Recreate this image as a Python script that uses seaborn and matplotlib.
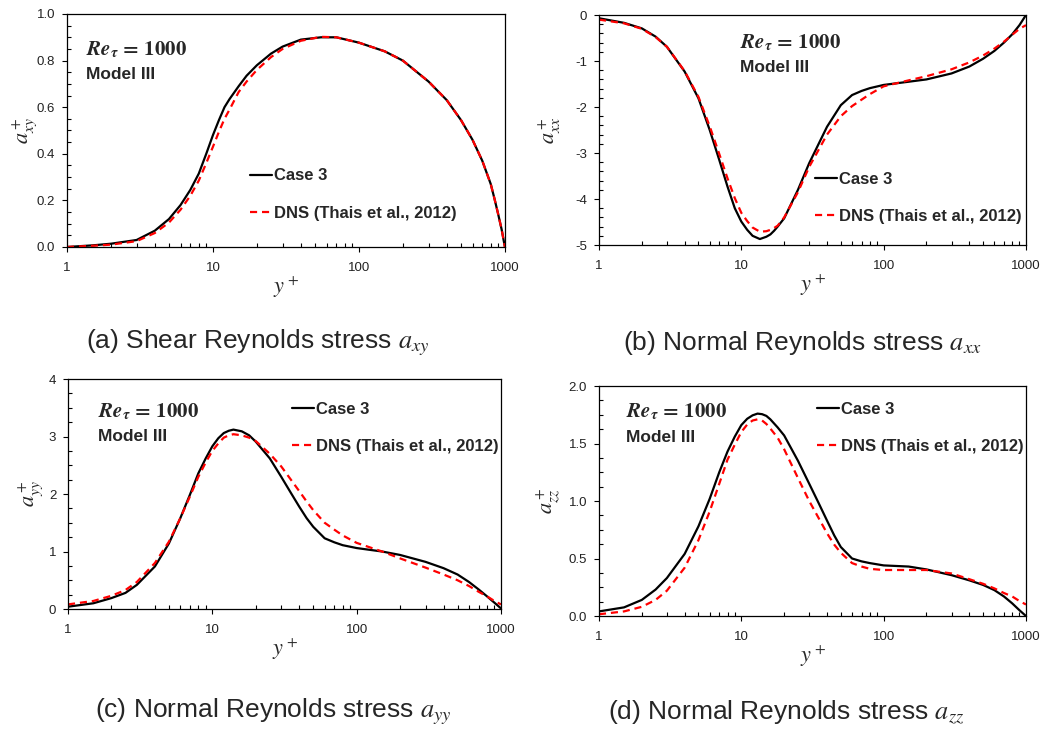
import numpy as np
import pandas as pd
import seaborn as sns
import matplotlib.pyplot as plt
from matplotlib.ticker import LogLocator, MultipleLocator, FormatStrFormatter, FuncFormatter, NullFormatter

# y+ positions and values (log axis 1..1000)
yp_a = [1, 1.5, 2, 3, 4, 5, 6, 7, 8, 9, 10, 11, 12, 13, 15, 17, 20, 25, 30, 40, 55, 70,
        100, 150, 200, 300, 400, 500, 600, 700, 800, 850, 900, 950, 1000]
axy_case = [0.0, 0.007, 0.014, 0.03, 0.07, 0.12, 0.18, 0.245, 0.315, 0.40, 0.48, 0.545, 0.60, 0.635,
            0.69, 0.735, 0.78, 0.83, 0.86, 0.89, 0.90, 0.90, 0.877, 0.84, 0.80, 0.71, 0.63, 0.545,
            0.46, 0.37, 0.27, 0.205, 0.14, 0.075, 0.0]
axy_dns = [0.0, 0.005, 0.01, 0.025, 0.06, 0.105, 0.16, 0.22, 0.285, 0.36, 0.43, 0.495, 0.55, 0.59,
           0.665, 0.71, 0.76, 0.815, 0.85, 0.885, 0.902, 0.90, 0.877, 0.84, 0.80, 0.71, 0.63, 0.545,
           0.46, 0.37, 0.27, 0.205, 0.14, 0.075, 0.0]

yp_b = [1, 1.5, 2, 2.5, 3, 4, 5, 6, 7, 8, 9, 10, 11, 12, 13.5, 15, 16, 17, 18, 20, 25, 30, 40,
        50, 60, 70, 80, 100, 150, 200, 300, 400, 500, 600, 700, 800, 900, 1000]
axx_case = [-0.07, -0.17, -0.29, -0.47, -0.69, -1.23, -1.81, -2.5, -3.15, -3.73, -4.2, -4.49, -4.67,
            -4.80, -4.87, -4.82, -4.77, -4.69, -4.6, -4.42, -3.8, -3.22, -2.43, -1.96, -1.74, -1.65,
            -1.59, -1.52, -1.45, -1.40, -1.27, -1.12, -0.95, -0.78, -0.60, -0.42, -0.22, 0.0]
axx_dns = [-0.1, -0.18, -0.3, -0.48, -0.69, -1.22, -1.78, -2.42, -3.02, -3.55, -3.98, -4.3, -4.48,
           -4.62, -4.71, -4.70, -4.67, -4.63, -4.58, -4.4, -3.85, -3.3, -2.6, -2.2, -1.98, -1.84,
           -1.72, -1.55, -1.42, -1.33, -1.18, -1.03, -0.88, -0.73, -0.58, -0.43, -0.30, -0.22]

yp_c = [1, 1.5, 2, 2.5, 3, 4, 5, 6, 7, 8, 9, 10, 11, 12, 13, 14, 16, 18, 20, 25, 30, 35, 40, 45,
        50, 60, 70, 80, 100, 150, 200, 300, 400, 500, 600, 700, 800, 900, 1000]
ayy_case = [0.04, 0.10, 0.19, 0.28, 0.42, 0.74, 1.14, 1.58, 1.99, 2.36, 2.62, 2.83, 2.97, 3.06, 3.10,
            3.12, 3.09, 3.02, 2.91, 2.62, 2.30, 2.02, 1.78, 1.58, 1.43, 1.23, 1.16, 1.11, 1.06, 1.00,
            0.94, 0.82, 0.71, 0.60, 0.47, 0.34, 0.22, 0.11, 0.01]
ayy_dns = [0.08, 0.14, 0.23, 0.33, 0.47, 0.80, 1.17, 1.58, 1.96, 2.30, 2.55, 2.75, 2.88, 2.98, 3.02,
           3.04, 3.02, 2.98, 2.92, 2.70, 2.48, 2.25, 2.05, 1.87, 1.72, 1.50, 1.38, 1.28, 1.15, 1.00,
           0.88, 0.72, 0.60, 0.50, 0.40, 0.30, 0.22, 0.14, 0.08]

yp_d = [1, 1.5, 2, 2.5, 3, 4, 5, 6, 7, 8, 9, 10, 11, 12, 13, 14, 15, 16, 18, 20, 25, 30, 35, 40,
        45, 50, 60, 70, 80, 100, 150, 200, 300, 400, 500, 600, 700, 800, 900, 1000]
azz_case = [0.04, 0.075, 0.14, 0.23, 0.33, 0.54, 0.78, 1.02, 1.25, 1.43, 1.56, 1.66, 1.715, 1.745,
            1.76, 1.755, 1.74, 1.71, 1.64, 1.57, 1.35, 1.15, 0.98, 0.83, 0.70, 0.60, 0.50, 0.475,
            0.46, 0.44, 0.43, 0.405, 0.355, 0.31, 0.27, 0.225, 0.17, 0.11, 0.05, 0.0]
azz_dns = [0.015, 0.04, 0.08, 0.14, 0.22, 0.42, 0.66, 0.91, 1.15, 1.36, 1.49, 1.60, 1.665, 1.70,
           1.71, 1.70, 1.67, 1.63, 1.55, 1.45, 1.20, 1.00, 0.85, 0.72, 0.62, 0.55, 0.46, 0.43,
           0.41, 0.40, 0.40, 0.40, 0.37, 0.32, 0.28, 0.24, 0.20, 0.17, 0.13, 0.10]

sns.set_theme(style="ticks")
plt.rcParams["font.family"] = ["Liberation Sans", "DejaVu Sans"]
plt.rcParams["mathtext.fontset"] = "stix"

fig = plt.figure(figsize=(10.51, 7.29), dpi=100)

panels = [
    dict(rect=[0.0637, 0.6612, 0.4167, 0.3196], x=yp_a, case=axy_case, dns=axy_dns,
         ylim=(0, 1.0), major=0.2, minor=0.05, fmt="%.1f", ylab=r"$a^+_{xy}$",
         txt=(0.043, 0.845, 0.742), leg=(0.418, 0.309), ylx=-0.064),
    dict(rect=[0.5699, 0.6639, 0.4063, 0.3155], x=yp_b, case=axx_case, dns=axx_dns,
         ylim=(-5, 0), major=1, minor=0.2, fmt="%d", ylab=r"$a^+_{xx}$",
         txt=(0.330, 0.878, 0.770), leg=(0.506, 0.291), ylx=-0.084),
    dict(rect=[0.0647, 0.1646, 0.4120, 0.3155], x=yp_c, case=ayy_case, dns=ayy_dns,
         ylim=(0, 4), major=1, minor=0.25, fmt="%d", ylab=r"$a^+_{yy}$",
         txt=(0.069, 0.857, 0.748), leg=(0.517, 0.874), ylx=-0.052),
    dict(rect=[0.5699, 0.1550, 0.4063, 0.3155], x=yp_d, case=azz_case, dns=azz_dns,
         ylim=(0, 2.0), major=0.5, minor=0.125, fmt="%.1f", ylab=r"$a^+_{zz}$",
         txt=(0.063, 0.887, 0.778), leg=(0.511, 0.904), ylx=-0.084),
]

captions = [
    (0.2455, 0.5295, r"(a) Shear Reynolds stress $a_{xy}$"),
    (0.763, 0.5295, r"(b) Normal Reynolds stress $a_{xx}$"),
    (0.260, 0.0233, r"(c) Normal Reynolds stress $a_{yy}$"),
    (0.748, 0.0233, r"(d) Normal Reynolds stress $a_{zz}$"),
]

for p in panels:
    ax = fig.add_axes(p["rect"])
    sns.lineplot(x=p["x"], y=p["case"], ax=ax, color="black", lw=1.6,
                 label="Case 3", estimator=None, sort=False)
    sns.lineplot(x=p["x"], y=p["dns"], ax=ax, color="red", lw=1.6,
                 linestyle=(0, (3.2, 2.2)), label="DNS (Thais et al., 2012)",
                 estimator=None, sort=False)
    ax.set_xscale("log")
    ax.set_xlim(1, 1000)
    ax.set_ylim(*p["ylim"])
    ax.xaxis.set_major_locator(LogLocator(base=10, numticks=10))
    ax.xaxis.set_minor_locator(LogLocator(base=10, subs=np.arange(2, 10), numticks=10))
    ax.xaxis.set_major_formatter(FuncFormatter(lambda v, pos: f"{v:g}"))
    ax.xaxis.set_minor_formatter(NullFormatter())
    ax.yaxis.set_major_locator(MultipleLocator(p["major"]))
    ax.yaxis.set_minor_locator(MultipleLocator(p["minor"]))
    ax.yaxis.set_major_formatter(FormatStrFormatter(p["fmt"]))
    for s in ax.spines.values():
        s.set_visible(True)
        s.set_color("black")
        s.set_linewidth(0.9)
    ax.tick_params(which="major", direction="out", length=3.5, width=0.8,
                   labelsize=9.5, pad=5, color="black", labelcolor="#222222")
    ax.tick_params(which="minor", direction="in", length=3, width=0.8, color="black")
    ax.tick_params(axis="x", which="major", pad=7)
    ax.set_xlabel(r"$y^+$", fontsize=16, labelpad=1)
    ax.set_ylabel(p["ylab"], fontsize=16)
    ax.yaxis.set_label_coords(p["ylx"], 0.5)

    tx, ty1, ty2 = p["txt"]
    ax.text(tx, ty1, r"$\mathbfit{Re}_{\mathbfit{\tau}}\,\mathbf{=}\,\mathbf{1000}$",
            transform=ax.transAxes, fontsize=15, va="center", ha="left")
    ax.text(tx, ty2, "Model III", transform=ax.transAxes, fontsize=12.5,
            fontweight="bold", va="center", ha="left")

    lx, ly = p["leg"]
    ax.legend(loc="upper left", bbox_to_anchor=(lx, ly + 0.028), frameon=False,
              borderpad=0, borderaxespad=0, handlelength=1.3, handletextpad=0.15,
              labelspacing=1.36, prop={"weight": "bold", "size": 12})

for x, y, s in captions:
    fig.text(x, y, s, fontsize=19, ha="center", va="center")

fig.savefig("out.png", dpi=100)
